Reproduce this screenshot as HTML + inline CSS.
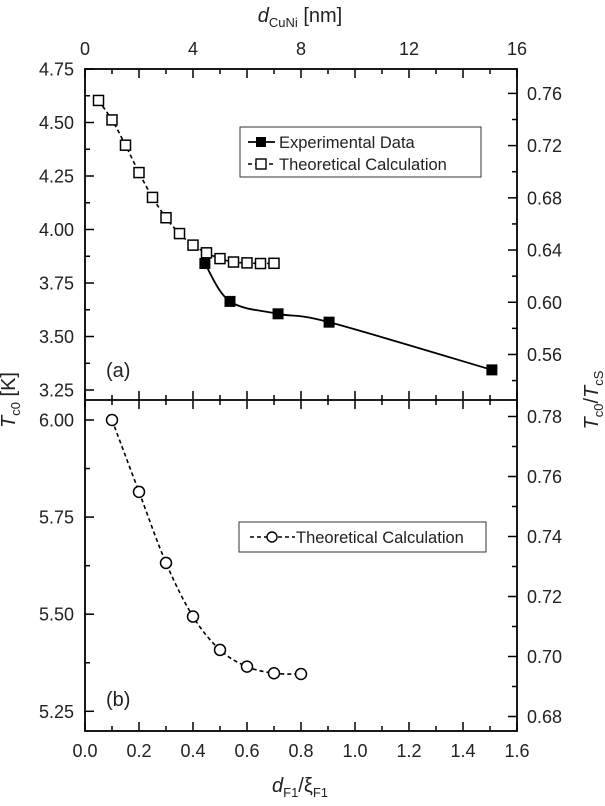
<!DOCTYPE html>
<html><head><meta charset="utf-8"><style>
html,body{margin:0;padding:0;background:#fff;}
svg{display:block;font-family:"Liberation Sans",Arial,sans-serif;}
</style></head><body style="position:relative">
<svg id="chart" width="605" height="806" viewBox="0 0 605 806" style="position:absolute;left:0;top:0">
<g id="axes"></g><g id="marks"></g>
</svg>
<script>
// ---- data ----
const theoX = [0.05,0.10,0.15,0.20,0.25,0.30,0.35,0.40,0.45,0.50,0.55,0.60,0.65,0.70];
const theoT = [4.603,4.512,4.394,4.266,4.150,4.055,3.981,3.927,3.891,3.864,3.848,3.844,3.841,3.842];
const expX = [0.444,0.537,0.715,0.904,1.507];
const expT = [3.841,3.664,3.606,3.567,3.344];
const bX = [0.1,0.2,0.3,0.4,0.5,0.6,0.7,0.8];
const bT = [6.00,5.815,5.632,5.494,5.408,5.365,5.348,5.346];
const topTicks = [0,4,8,12,16];
const botTicks = ["0.0","0.2","0.4","0.6","0.8","1.0","1.2","1.4","1.6"];
const leftTopTicks = ["3.25","3.50","3.75","4.00","4.25","4.50","4.75"];
const rightTopTicks = ["0.56","0.60","0.64","0.68","0.72","0.76"];
const leftBotTicks = ["5.25","5.50","5.75","6.00"];
const rightBotTicks = ["0.68","0.70","0.72","0.74","0.76","0.78"];
const TcS_top = 6.1;

const L=85,R=517,T1=69,D=400,B=731;
const sx = v => L + v/1.6*(R-L);
const syA = t => 69 + (4.75-t)/0.25*53.5;
const syB = t => 420 + (6.00-t)/0.25*97.1;
const ryB = r => 416.5 + (0.78-r)/0.02*60;
const NS="http://www.w3.org/2000/svg";
const axes=document.getElementById('axes'), marks=document.getElementById('marks');
function mk(tag,attrs,parent){const e=document.createElementNS(NS,tag);for(const k in attrs)e.setAttribute(k,attrs[k]);(parent||axes).appendChild(e);return e;}
function line(x1,y1,x2,y2,p){return mk('line',{x1,y1,x2,y2,stroke:'#000','stroke-width':1.5},p);}
function txt(x,y,s,anchor,size){const t=mk('text',{x,y,'text-anchor':anchor||'middle','font-size':size||18,fill:'#222'});t.textContent=s;return t;}

let f=mk('rect',{x:L,y:T1,width:R-L,height:B-T1,fill:'none',stroke:'#000','stroke-width':1.8});

let dv=line(L,D,R,D);dv.setAttribute('stroke-width',1.8);


for(let i=0;i<=16;i++){const v=i*0.1,x=sx(v),len=(i%2==0)?9:5;
 line(x,T1,x,T1+len);line(x,D,x,D-len);line(x,D,x,D+len);line(x,B,x,B-len);}
topTicks.forEach(v=>{const t=txt(sx(v/10),55,String(v));});
botTicks.forEach(s=>{const t=txt(sx(parseFloat(s)),757,s);});

for(let t=3.25;t<=4.7501;t+=0.125){const y=syA(t),maj=Math.abs((t*4)-Math.round(t*4))<1e-6;line(L,y,L+(maj?9:5),y);}
leftTopTicks.forEach(s=>{const t=txt(L-11,syA(parseFloat(s))+6.5,s,'end');});
for(let r=0.54;r<=0.781;r+=0.02){const y=syA(r*TcS_top);if(y<T1+1||y>D-1)continue;const maj=Math.round(r*100)%4==0;line(R,y,R-(maj?9:5),y);}
rightTopTicks.forEach(s=>{const t=txt(R+10,syA(parseFloat(s)*TcS_top)+6.5,s,'start');});
for(let t=5.125;t<=6.1;t+=0.125){const y=syB(t);if(y<D+1||y>B-1)continue;const maj=Math.abs((t*4)-Math.round(t*4))<1e-6;line(L,y,L+(maj?9:5),y);}
leftBotTicks.forEach(s=>{const t=txt(L-11,syB(parseFloat(s))+6.5,s,'end');});
for(let r=0.67;r<=0.791;r+=0.01){const y=ryB(r);if(y<D+1||y>B-1)continue;const maj=Math.round(r*100)%2==0;line(R,y,R-(maj?9:5),y);}
rightBotTicks.forEach(s=>{const t=txt(R+10,ryB(parseFloat(s))+6.5,s,'start');});

function smooth(pts){let d=`M${pts[0][0]},${pts[0][1]}`;for(let i=0;i<pts.length-1;i++){const p0=pts[Math.max(0,i-1)],p1=pts[i],p2=pts[i+1],p3=pts[Math.min(pts.length-1,i+2)];
 const c1=[p1[0]+(p2[0]-p0[0])/6,p1[1]+(p2[1]-p0[1])/6],c2=[p2[0]-(p3[0]-p1[0])/6,p2[1]-(p3[1]-p1[1])/6];
 d+=` C${c1[0]},${c1[1]} ${c2[0]},${c2[1]} ${p2[0]},${p2[1]}`;}return d;}

let p=mk('path',{d:smooth(theoX.map((x,i)=>[sx(x),syA(theoT[i])])),fill:'none',stroke:'#000','stroke-width':1.6,'stroke-dasharray':'4,3'},marks);

p=mk('path',{d:smooth(expX.map((x,i)=>[sx(x),syA(expT[i])])),fill:'none',stroke:'#000','stroke-width':1.8},marks);

theoX.forEach((x,i)=>{const r=mk('rect',{x:sx(x)-5,y:syA(theoT[i])-5,width:10,height:10,fill:'#fff',stroke:'#000','stroke-width':1.5},marks);
 });
expX.forEach((x,i)=>{const r=mk('rect',{x:sx(x)-5.5,y:syA(expT[i])-5.5,width:11,height:11,fill:'#000'},marks);
 });
p=mk('path',{d:smooth(bX.map((x,i)=>[sx(x),syB(bT[i])])),fill:'none',stroke:'#000','stroke-width':1.6,'stroke-dasharray':'4,3'},marks);

bX.forEach((x,i)=>{const c=mk('circle',{cx:sx(x),cy:syB(bT[i]),r:5.5,fill:'#fff',stroke:'#000','stroke-width':1.5},marks);
 });
</script>
<svg width="605" height="806" style="position:absolute;left:0;top:0;pointer-events:none">
 <g>
  <rect x="240" y="127" width="241" height="50" fill="#fff" stroke="#333" stroke-width="1"/>
  <line x1="248" y1="142" x2="275" y2="142" stroke="#000" stroke-width="1.8"/>
  <rect x="256" y="137" width="10" height="10" fill="#000"/>
  <text x="279" y="148" font-size="16.5" fill="#222">Experimental Data</text>
  <line x1="248" y1="164" x2="275" y2="164" stroke="#000" stroke-width="1.6" stroke-dasharray="4,3"/>
  <rect x="256" y="159" width="10" height="10" fill="#fff" stroke="#000" stroke-width="1.4"/>
  <text x="279" y="170" font-size="16.5" fill="#222">Theoretical Calculation</text>
 </g>
 <g>
  <rect x="239" y="522" width="247" height="30" fill="#fff" stroke="#333" stroke-width="1"/>
  <line x1="250" y1="537" x2="295" y2="537" stroke="#000" stroke-width="1.6" stroke-dasharray="4,3"/>
  <circle cx="272" cy="537" r="5" fill="#fff" stroke="#000" stroke-width="1.4"/>
  <text x="296" y="543" font-size="16.5" fill="#222">Theoretical Calculation</text>
 </g>
 <text x="106" y="377" font-size="20" fill="#222">(a)</text>
 <text x="106" y="706" font-size="20" fill="#222">(b)</text>
 <text x="300" y="22" text-anchor="middle" font-size="20" fill="#222"><tspan font-style="italic">d</tspan><tspan font-size="13" dy="5">CuNi</tspan><tspan dy="-5"> [nm]</tspan></text>
 <text x="300" y="792" text-anchor="middle" font-size="20" fill="#222"><tspan font-style="italic">d</tspan><tspan font-size="13" dy="5">F1</tspan><tspan dy="-5">/ξ</tspan><tspan font-size="13" dy="5">F1</tspan></text>
 <text transform="translate(15,400) rotate(-90)" text-anchor="middle" font-size="20" fill="#222"><tspan font-style="italic">T</tspan><tspan font-size="13" dy="5">c0</tspan><tspan dy="-5"> [K]</tspan></text>
 <text transform="translate(598,400) rotate(-90)" text-anchor="middle" font-size="20" fill="#222"><tspan font-style="italic">T</tspan><tspan font-size="13" dy="5">c0</tspan><tspan dy="-5">/</tspan><tspan font-style="italic">T</tspan><tspan font-size="13" dy="5">cS</tspan></text>
</svg>
</body></html>
